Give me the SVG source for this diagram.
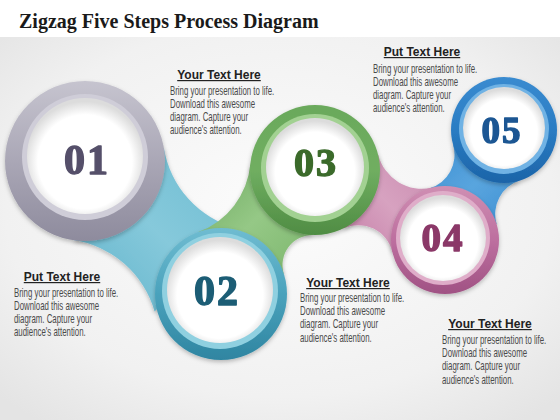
<svg xmlns="http://www.w3.org/2000/svg" width="560" height="420" viewBox="0 0 560 420">
  <defs>
    <radialGradient id="bg" cx="50%" cy="45%" r="70%">
      <stop offset="0" stop-color="#fcfcfc"/>
      <stop offset="0.7" stop-color="#f1f1f1"/>
      <stop offset="1" stop-color="#e4e4e4"/>
    </radialGradient>
    <radialGradient id="white" cx="50%" cy="55%" r="52%">
      <stop offset="0.78" stop-color="#ffffff"/>
      <stop offset="1" stop-color="#dcdcdc"/>
    </radialGradient>
    <linearGradient id="g1" x1="0" y1="0" x2="0" y2="1">
      <stop offset="0" stop-color="#c6c4cf"/>
      <stop offset="0.5" stop-color="#aaa7b6"/>
      <stop offset="1" stop-color="#8e8b9d"/>
    </linearGradient>
    <linearGradient id="g2" x1="0" y1="0" x2="0" y2="1">
      <stop offset="0" stop-color="#6fbcd1"/>
      <stop offset="0.5" stop-color="#4aa2bc"/>
      <stop offset="1" stop-color="#2f85a1"/>
    </linearGradient>
    <linearGradient id="g3" x1="0" y1="0" x2="0" y2="1">
      <stop offset="0" stop-color="#6aa95b"/>
      <stop offset="0.5" stop-color="#70ae61"/>
      <stop offset="1" stop-color="#4f8c43"/>
    </linearGradient>
    <linearGradient id="g4" x1="0" y1="0" x2="0" y2="1">
      <stop offset="0" stop-color="#cf8fb3"/>
      <stop offset="0.5" stop-color="#bd6f9f"/>
      <stop offset="1" stop-color="#a05284"/>
    </linearGradient>
    <linearGradient id="g5" x1="0" y1="0" x2="0" y2="1">
      <stop offset="0" stop-color="#3a8bd0"/>
      <stop offset="0.5" stop-color="#2a7cc3"/>
      <stop offset="1" stop-color="#1c64a8"/>
    </linearGradient>
    <linearGradient id="n2" x1="0" y1="1" x2="1" y2="0">
      <stop offset="0" stop-color="#5fb2ca"/>
      <stop offset="0.5" stop-color="#86c9db"/>
      <stop offset="1" stop-color="#6cbbd1"/>
    </linearGradient>
    <linearGradient id="n3" x1="1" y1="1" x2="0" y2="0">
      <stop offset="0" stop-color="#7cb66c"/>
      <stop offset="0.5" stop-color="#95c886"/>
      <stop offset="1" stop-color="#6ea95f"/>
    </linearGradient>
    <linearGradient id="n4" x1="0" y1="1" x2="1" y2="0">
      <stop offset="0" stop-color="#c57ea7"/>
      <stop offset="0.5" stop-color="#d7a2c0"/>
      <stop offset="1" stop-color="#c98aaf"/>
    </linearGradient>
    <linearGradient id="n5" x1="1" y1="1" x2="0" y2="0">
      <stop offset="0" stop-color="#3d8ed2"/>
      <stop offset="0.5" stop-color="#59a5de"/>
      <stop offset="1" stop-color="#3f90d3"/>
    </linearGradient>
    <filter id="sh" x="-20%" y="-20%" width="140%" height="140%">
      <feDropShadow dx="0" dy="2" stdDeviation="2" flood-color="#000" flood-opacity="0.25"/>
    </filter>
  </defs>
  <style>
    .title { font-family: "Liberation Serif", serif; font-weight: bold; font-size: 20px; fill: #1a1a1a; }
    .num { font-family: "Liberation Serif", serif; font-weight: bold; text-anchor: middle; letter-spacing: 2px; stroke-width: 1.4px; stroke-linejoin: round; }
    .head { font-family: "Liberation Sans", Arial, sans-serif; font-weight: bold; font-size: 12px; fill: #222; text-anchor: middle; text-decoration: underline; }
    .body { font-family: "Liberation Sans", Arial, sans-serif; font-size: 12px; fill: #4a4a4a; }
  </style>

  <rect x="0" y="0" width="560" height="420" fill="#ffffff"/>
  <rect x="0" y="37" width="560" height="383" fill="url(#bg)"/>

  <text class="title" x="19" y="28">Zigzag Five Steps Process Diagram</text>

  <g id="connectors" filter="url(#sh)">
    <path id="link-01-02" d="M 73.2 240.1 A 100 100 0 0 1 154.6 311.5 L 236.5 228.3 A 100 100 0 0 1 163.9 148 Z" fill="url(#n2)"/>
    <path id="link-02-03" d="M 283.9 274 A 30 30 0 0 1 313.3 235 L 250.3 164.2 A 80 80 0 0 1 198.2 232.1 Z" fill="url(#n3)"/>
    <path id="link-03-04" d="M 343.2 228.6 A 35 35 0 0 1 392.4 252.2 L 432.4 187.5 A 45 45 0 0 1 378.2 154.5 Z" fill="url(#n4)"/>
    <path id="link-04-05" d="M 496.7 224.2 A 35 35 0 0 1 519.7 180.6 L 453.1 144.9 A 35 35 0 0 1 429.6 188.3 Z" fill="url(#n5)"/>
  </g>

  <g id="step-05" filter="url(#sh)">
    <circle cx="504" cy="130" r="53" fill="url(#g5)"/>
    <circle cx="504" cy="129" r="45" fill="#6fb2e4"/>
    <circle cx="504" cy="128" r="41" fill="url(#white)"/>
    <text class="num" x="502" y="143" font-size="37" fill="#1b5793" stroke="#1b5793">05</text>
  </g>
  <g id="step-04" filter="url(#sh)">
    <circle cx="445" cy="240" r="54" fill="url(#g4)"/>
    <circle cx="443" cy="238" r="47" fill="#dfadc9"/>
    <circle cx="443" cy="238" r="43" fill="url(#white)"/>
    <text class="num" x="443" y="251" font-size="39" fill="#8b3868" stroke="#8b3868">04</text>
  </g>
  <g id="step-03" filter="url(#sh)">
    <circle cx="315" cy="170" r="65" fill="url(#g3)"/>
    <circle cx="315" cy="168" r="54" fill="#a2d192"/>
    <circle cx="315" cy="167" r="49" fill="url(#white)"/>
    <text class="num" x="316" y="176" font-size="40" fill="#3b6b2c" stroke="#3b6b2c">03</text>
  </g>
  <g id="step-02" filter="url(#sh)">
    <circle cx="221" cy="294" r="66" fill="url(#g2)"/>
    <circle cx="220" cy="291" r="58" fill="#8fd0e0"/>
    <circle cx="220" cy="290" r="53" fill="url(#white)"/>
    <text class="num" x="217" y="305" font-size="42" fill="#1d5d75" stroke="#1d5d75">02</text>
  </g>
  <g id="step-01" filter="url(#sh)">
    <circle cx="85" cy="161" r="80" fill="url(#g1)"/>
    <circle cx="85" cy="157" r="63" fill="#cfcdd8"/>
    <circle cx="85" cy="156" r="58" fill="url(#white)"/>
    <text class="num" x="87" y="174" font-size="42" fill="#55506a" stroke="#55506a">01</text>
  </g>

  <g id="text-01">
    <text class="head" x="219" y="79">Your Text Here</text>
    <g class="body" transform="translate(170,95) scale(0.655,1)">
      <text x="0" y="0">Bring your presentation to life.</text>
      <text x="0" y="13">Download this awesome</text>
      <text x="0" y="26">diagram. Capture your</text>
      <text x="0" y="39">audience's attention.</text>
    </g>
  </g>
  <g id="text-05">
    <text class="head" x="422" y="56">Put Text Here</text>
    <g class="body" transform="translate(373,73) scale(0.655,1)">
      <text x="0" y="0">Bring your presentation to life.</text>
      <text x="0" y="13">Download this awesome</text>
      <text x="0" y="26">diagram. Capture your</text>
      <text x="0" y="39">audience's attention.</text>
    </g>
  </g>
  <g id="text-02">
    <text class="head" x="62" y="281">Put Text Here</text>
    <g class="body" transform="translate(14,297) scale(0.655,1)">
      <text x="0" y="0">Bring your presentation to life.</text>
      <text x="0" y="13">Download this awesome</text>
      <text x="0" y="26">diagram. Capture your</text>
      <text x="0" y="39">audience's attention.</text>
    </g>
  </g>
  <g id="text-03">
    <text class="head" x="348" y="287">Your Text Here</text>
    <g class="body" transform="translate(300,302) scale(0.655,1)">
      <text x="0" y="0">Bring your presentation to life.</text>
      <text x="0" y="13">Download this awesome</text>
      <text x="0" y="26">diagram. Capture your</text>
      <text x="0" y="40">audience's attention.</text>
    </g>
  </g>
  <g id="text-04">
    <text class="head" x="490" y="328">Your Text Here</text>
    <g class="body" transform="translate(442,344) scale(0.655,1)">
      <text x="0" y="0">Bring your presentation to life.</text>
      <text x="0" y="13">Download this awesome</text>
      <text x="0" y="26">diagram. Capture your</text>
      <text x="0" y="40">audience's attention.</text>
    </g>
  </g>
</svg>
